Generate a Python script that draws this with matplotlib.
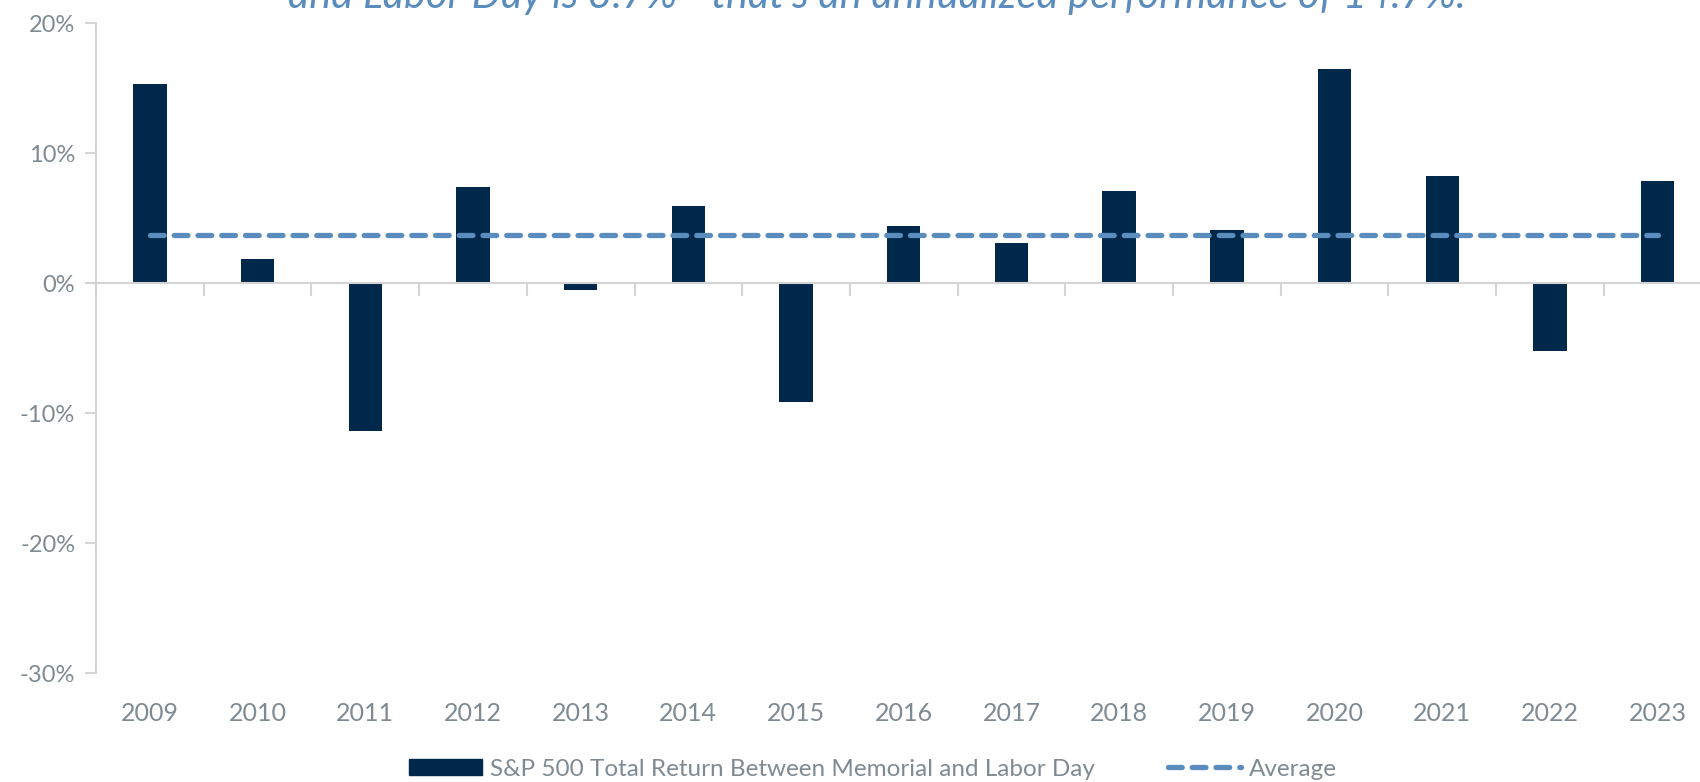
import numpy as np
import matplotlib
matplotlib.use("Agg")
import matplotlib.pyplot as plt
from matplotlib.lines import Line2D
from matplotlib.patches import Patch

# data
years = ["2009", "2010", "2011", "2012", "2013", "2014", "2015", "2016",
         "2017", "2018", "2019", "2020", "2021", "2022", "2023"]
returns = [15.3, 1.85, -11.35, 7.35, -0.5, 5.95, -9.15, 4.4,
           3.05, 7.1, 4.1, 16.5, 8.25, -5.2, 7.85]
average = 3.7
y_ticks = [-30, -20, -10, 0, 10, 20]

bar_color = "#00284A"
avg_color = "#5A8CBE"
text_color = "#7F8A93"
axis_color = "#D4D4D4"

plt.rcParams['font.family'] = ['Lato', 'DejaVu Sans']

fig = plt.figure(figsize=(17, 7.82), dpi=100)
# axes runs past the right edge, like the cropped original
ax = fig.add_axes([96 / 1700, 109 / 782, 1615.5 / 1700, 650 / 782])

x = np.arange(len(years))
ax.bar(x, returns, width=0.31, color=bar_color, zorder=2)
ax.plot(x, [average] * len(x), color=avg_color, lw=3.8, ls=(0, (2.6, 1.9)),
        dash_capstyle='round', zorder=3)

ax.set_xlim(-0.5, len(years) - 0.5)
ax.set_ylim(-30, 20)
ax.set_yticks(y_ticks)
ax.set_yticklabels([f"{v}%" for v in y_ticks])
ax.tick_params(axis='y', length=8, width=1.5, color=axis_color,
               labelsize=17, labelcolor=text_color, pad=7)

for s in ['top', 'right']:
    ax.spines[s].set_visible(False)
ax.spines['left'].set_color(axis_color)
ax.spines['left'].set_linewidth(1.5)
ax.spines['bottom'].set_position(('data', 0))
ax.spines['bottom'].set_color(axis_color)
ax.spines['bottom'].set_linewidth(1.5)
ax.set_xticks(np.arange(len(years) + 1) - 0.5)
ax.set_xticklabels([])
ax.tick_params(axis='x', length=9, width=1.5, color=axis_color)

# year labels under the plot
sec = ax.secondary_xaxis('bottom')
sec.spines['bottom'].set_visible(False)
sec.set_xticks(x)
sec.set_xticklabels(years)
sec.tick_params(length=0, labelsize=18, labelcolor=text_color, pad=21)

handles = [Patch(color=bar_color),
           Line2D([0], [0], color=avg_color, lw=3.8, ls=(0, (2.6, 1.9)),
                  dash_capstyle='round')]
labels = ["S&P 500 Total Return Between Memorial and Labor Day", "Average"]
fig.legend(handles, labels, loc='center', bbox_to_anchor=(873 / 1700, 13 / 782),
           ncol=2, frameon=False, fontsize=17.5, labelcolor=text_color,
           handlelength=3.0, handleheight=0.6, handletextpad=0.35, columnspacing=3.0)

# subtitle is cut off at the top in the original
fig.text(0.516, 1 - 8 / 782,
         "and Labor Day is 3.7% - that's an annualized performance of 14.7%.",
         ha='center', va='baseline', fontsize=30, style='italic', color=avg_color)

fig.savefig("out.png", dpi=100)
